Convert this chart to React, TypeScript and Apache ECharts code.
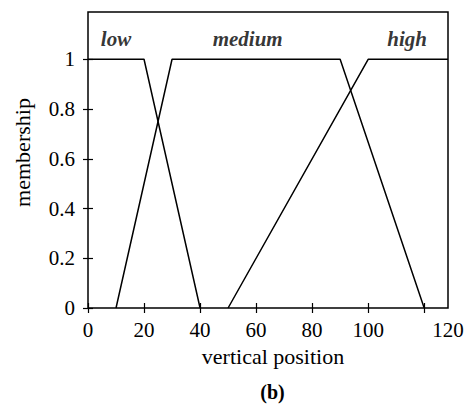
import React, { useEffect, useRef } from "react";
import * as echarts from "echarts";

// x axis extent (the frame runs past the 120 tick)
const X_MAX = 128.5;
const Y_MAX = 1.19;

const xTickValues = [0, 20, 40, 60, 80, 100, 120];
const xTickLabels = ["0", "20", "40", "60", "80", "100", "120"];
const yTickValues = [0, 0.2, 0.4, 0.6, 0.8, 1];
const yTickLabels = ["0", "0.2", "0.4", "0.6", "0.8", "1"];

const lowSeries: [number, number][] = [[0, 1], [20, 1], [40, 0]];
const mediumSeries: [number, number][] = [[10, 0], [30, 1], [90, 1], [120, 0]];
const highSeries: [number, number][] = [[50, 0], [100, 1], [128.5, 1]];

const setNames = ["low", "medium", "high"];
const setLabelX = [10, 57, 113.9];
const setLabelY = [1.08, 1.08, 1.08];

const FONT = "'Liberation Serif', 'Times New Roman', serif";

export default function App() {
  const ref = useRef<HTMLDivElement>(null);
  useEffect(() => {
    if (!ref.current) return;
    const chart = echarts.init(ref.current, undefined, { renderer: "svg" });
    const lineStyle = { color: "#000", width: 1.5 };
    const mkLine = (name: string, data: [number, number][]) => ({
      name,
      type: "line",
      data,
      symbol: "none",
      lineStyle,
      silent: true,
    });
    // label for x: last label sits on the frame edge in the reference
    const xLabelPositions = xTickValues.slice(0, -1).concat([X_MAX]);
    const xFmt = (v: number) => {
      const i = xLabelPositions.indexOf(v);
      return i >= 0 ? xTickLabels[i] : "";
    };
    const yFmt = (v: number) => {
      const i = yTickValues.findIndex((t) => Math.abs(t - v) < 1e-6);
      return i >= 0 ? yTickLabels[i] : "";
    };
    const tickStyle = { show: true, inside: true, length: 5, lineStyle: { color: "#000", width: 1.2 } };
    chart.setOption({
      animation: false,
      backgroundColor: "#fff",
      textStyle: { fontFamily: FONT },
      grid: {
        left: 88,
        right: 19,
        top: 12,
        bottom: 99,
        show: true,
        borderColor: "#000",
        borderWidth: 1.5,
        backgroundColor: "transparent",
      },
      xAxis: [
        {
          type: "value",
          min: 0,
          max: X_MAX,
          interval: 20,
          axisLine: { show: false },
          splitLine: { show: false },
          axisTick: { ...tickStyle, customValues: xTickValues },
          axisLabel: {
            customValues: xLabelPositions,
            formatter: xFmt,
            color: "#000",
            fontSize: 21,
            fontFamily: FONT,
            margin: 11,
          },
        },
        {
          type: "value",
          position: "top",
          min: 0,
          max: X_MAX,
          interval: 20,
          axisLine: { show: false },
          splitLine: { show: false },
          axisTick: { ...tickStyle, customValues: xTickValues },
          axisLabel: { show: false },
        },
      ],
      yAxis: [
        {
          type: "value",
          min: 0,
          max: Y_MAX,
          interval: 0.2,
          axisLine: { show: false },
          splitLine: { show: false },
          axisTick: { ...tickStyle, customValues: yTickValues },
          axisLabel: {
            customValues: yTickValues,
            formatter: yFmt,
            color: "#000",
            fontSize: 21,
            fontFamily: FONT,
            margin: 13,
          },
        },
        {
          type: "value",
          position: "right",
          min: 0,
          max: Y_MAX,
          interval: 0.2,
          axisLine: { show: false },
          splitLine: { show: false },
          axisTick: { ...tickStyle, customValues: yTickValues },
          axisLabel: { show: false },
        },
      ],
      series: [
        mkLine("low", lowSeries),
        mkLine("medium", mediumSeries),
        mkLine("high", highSeries),
        {
          type: "scatter",
          symbolSize: 0,
          silent: true,
          data: setNames.map((n, i) => ({ name: n, value: [setLabelX[i], setLabelY[i]] })),
          label: {
            show: true,
            position: "inside",
            formatter: (p: any) => p.name,
            color: "#000",
            fontSize: 21,
            fontStyle: "italic",
            fontWeight: "bold",
            fontFamily: FONT,
          },
        },
      ],
      graphic: [
        {
          type: "text",
          x: 273,
          y: 356,
          style: {
            text: "vertical position",
            fill: "#000",
            font: `22px ${FONT}`,
            align: "center",
            verticalAlign: "middle",
          },
        },
        {
          type: "text",
          x: 22,
          y: 152.5,
          rotation: Math.PI / 2,
          style: {
            text: "membership",
            fill: "#000",
            font: `22px ${FONT}`,
            align: "center",
            verticalAlign: "middle",
          },
        },
        {
          type: "text",
          x: 272.5,
          y: 392,
          style: {
            text: "(b)",
            fill: "#000",
            font: `bold 20px ${FONT}`,
            align: "center",
            verticalAlign: "middle",
          },
        },
      ],
    });
    return () => chart.dispose();
  }, []);
  return (
    <div
      ref={ref}
      style={{ position: "fixed", left: 0, top: 0, width: 467, height: 407, background: "#fff" }}
    />
  );
}
